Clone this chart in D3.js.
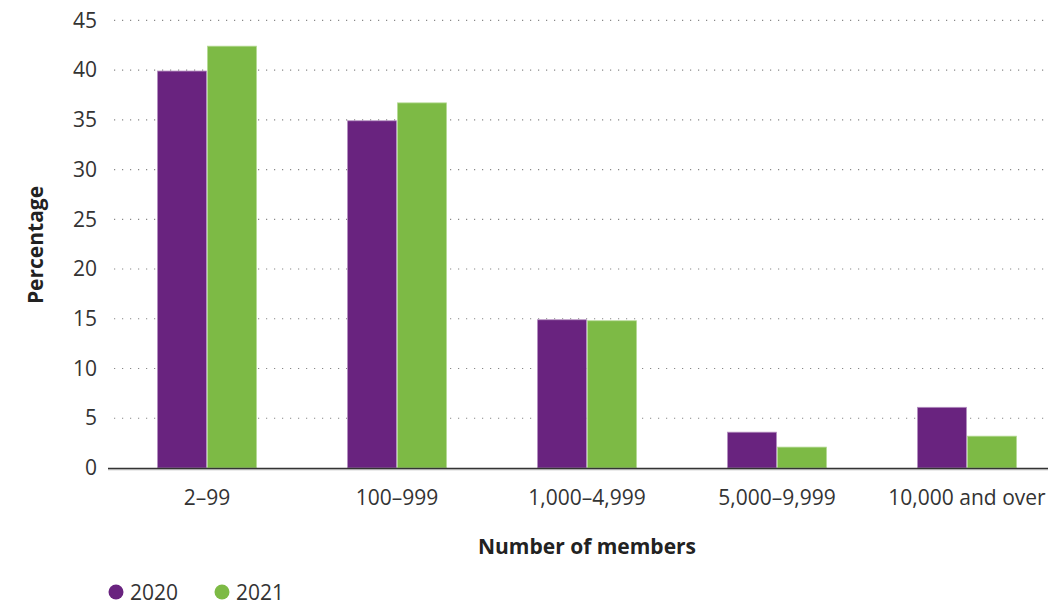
<!DOCTYPE html>
<html><head><meta charset="utf-8">
<script src="https://d3js.org/d3.v7.min.js"></script>
<style>body{margin:0;background:#fff;}svg{display:block;font-family:"Open Sans",sans-serif;}</style>
</head><body>
<svg id="c" width="1048" height="604"></svg>
<script>
const categories = ["2–99","100–999","1,000–4,999","5,000–9,999","10,000 and over"];
const series = ["2020","2021"];
const values2020 = [39.9, 34.9, 14.9, 3.6, 6.1];
const values2021 = [42.4, 36.7, 14.8, 2.1, 3.2];
const yTicks = [0,5,10,15,20,25,30,35,40,45];
const colors = ["#69237f","#7dba45"];

const svg = d3.select("#c");
const x = d3.scaleBand().domain(categories).range([112,1062]);
const y = d3.scaleLinear().domain([0,45]).range([468,20.3]);
const xs = d3.scaleBand().domain(series).range([0,99]).paddingInner(0.02);

// gridlines
svg.append("g").selectAll("line").data(yTicks.filter(d=>d>0)).join("line")
  .attr("x1",114).attr("x2",1048).attr("y1",d=>y(d)).attr("y2",d=>y(d))
  .attr("stroke","#888").attr("stroke-width",1.2).attr("stroke-dasharray","1.2,6.8");

// y axis labels
const yAxis = d3.axisLeft(y).tickValues(yTicks).tickSize(0).tickPadding(0);
const ya = svg.append("g").attr("transform","translate(97,0)").call(yAxis);
ya.select(".domain").remove();
ya.selectAll("text").attr("font-size",21).attr("fill","#333").attr("font-family","Open Sans");

// bars
const data = categories.map((c,i)=>({c, v:[values2020[i],values2021[i]]}));
const grp = svg.append("g").selectAll("g").data(data).join("g")
  .attr("transform",d=>`translate(${x(d.c)+x.bandwidth()/2-49.5},0)`);
grp.selectAll("rect").data(d=>d.v.map((v,j)=>({s:series[j],v,j}))).join("rect")
  .attr("x",d=>xs(d.s)).attr("width",xs.bandwidth())
  .attr("y",d=>y(d.v)).attr("height",d=>y(0)-y(d.v))
  .attr("fill",d=>colors[d.j])
  .attr("stroke",d=>d.j===0?"#b48fc0":"#b5da94").attr("stroke-width",0.8);

// baseline
svg.append("line").attr("x1",108).attr("x2",1048).attr("y1",469.5).attr("y2",469.5)
  .attr("stroke","#d8d8d8").attr("stroke-width",2);
svg.append("line").attr("x1",108).attr("x2",1048).attr("y1",468.5).attr("y2",468.5)
  .attr("stroke","#333").attr("stroke-width",1.5);

// x axis labels
const xAxis = d3.axisBottom(x).tickSize(0).tickPadding(0);
const xa = svg.append("g").attr("transform","translate(0,490)").call(xAxis);
xa.select(".domain").remove();
xa.selectAll("text").attr("font-size",21).attr("fill","#333").attr("font-family","Open Sans");

// axis titles
svg.append("text").attr("x",587).attr("y",554).attr("text-anchor","middle")
  .attr("font-size",21).attr("font-weight","bold").attr("fill","#222").text("Number of members");
svg.append("text").attr("transform","translate(43,245) rotate(-90)").attr("text-anchor","middle")
  .attr("font-size",21).attr("font-weight","bold").attr("fill","#222").text("Percentage");

// legend
const leg = svg.append("g").selectAll("g").data(series).join("g")
  .attr("transform",(d,i)=>`translate(${116+i*106},592)`);
leg.append("circle").attr("r",7.5).attr("fill",(d,i)=>colors[i]);
leg.append("text").attr("x",14).attr("y",7.5).attr("font-size",21).attr("fill","#333").text(d=>d);
</script>
</body></html>
